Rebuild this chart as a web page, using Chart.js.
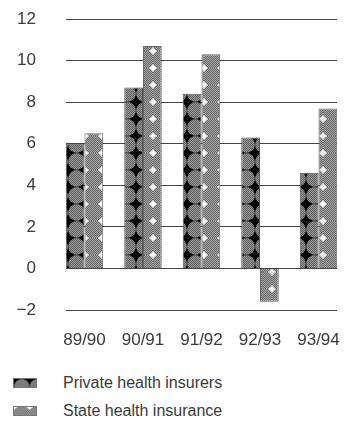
<!DOCTYPE html>
<html lang="en">
<head>
<meta charset="UTF-8">
<title>Health insurers</title>
<script src="https://cdn.jsdelivr.net/npm/chart.js"></script>
<style>
    body { margin: 0; background: #fff; }
    .janela { position: relative; width: 356px; height: 428px; overflow: hidden; font-family: "Liberation Sans", Arial, sans-serif; color: #3a3a3a; }
    .graph { position: absolute; left: 0; top: 0; width: 356px; height: 360px; }
    .legenda { position: absolute; left: 13px; font-size: 16px; line-height: 18px; display: flex; align-items: center; }
    .legenda canvas { width: 24px; height: 10px; margin-right: 26px; border: 1px solid #777; box-sizing: border-box; }
</style>
</head>
<body>
<div class="janela">
    <div class="graph"><canvas id="myChartCanvas1" width="356" height="360"></canvas></div>
    <div class="legenda" style="top:374px"><canvas id="swatch1" width="24" height="10"></canvas><span>Private health insurers</span></div>
    <div class="legenda" style="top:402px"><canvas id="swatch2" width="24" height="10"></canvas><span>State health insurance</span></div>
</div>

<script>
    // dados (% variação)
    const anos = ['89/90', '90/91', '91/92', '92/93', '93/94'];
    const privadas = [6.0, 8.7, 8.4, 6.3, 4.6];
    const estatais = [6.5, 10.7, 10.3, -1.6, 7.7];
    const rotulos = ['Private health insurers', 'State health insurance'];

    // padrão: círculos cinza pontilhados sobre um fundo (preto ou branco)
    function criarPadrao(fundo, raio, claro, escuro) {
        let c = document.createElement('canvas');
        c.width = 17; c.height = 17;
        let ctx = c.getContext('2d');
        ctx.fillStyle = fundo;
        ctx.fillRect(0, 0, 17, 17);
        ctx.save();
        ctx.beginPath();
        ctx.arc(8.5, 8.5, raio, 0, Math.PI * 2);
        ctx.clip();
        ctx.fillStyle = claro;
        ctx.fillRect(0, 0, 17, 17);
        ctx.fillStyle = escuro;
        for (let y = 0; y < 17; y++) {
            for (let x = (y % 2); x < 17; x += 2) {
                ctx.fillRect(x, y, 1, 1);
            }
        }
        ctx.restore();
        return c;
    }

    const tileP = criarPadrao('#000', 8.3, '#9a9a9a', '#5e5e5e');
    const tileE = criarPadrao('#fff', 9.6, '#a8a8a8', '#666');
    const ctxChart = document.getElementById('myChartCanvas1').getContext('2d');

    function pintarAmostra(id, tile) {
        let ctx = document.getElementById(id).getContext('2d');
        ctx.fillStyle = ctx.createPattern(tile, 'repeat');
        ctx.fillRect(0, 0, 24, 10);
    }
    pintarAmostra('swatch1', tileP);
    pintarAmostra('swatch2', tileE);

    const fonte = { family: '"Liberation Sans", Arial, sans-serif', size: 17 };

    const dados = {
        datasets: [{
            label: rotulos[0],
            data: privadas.map((v, i) => ({ x: i, y: v })),
            backgroundColor: ctxChart.createPattern(tileP, 'repeat'),
            borderColor: '#555',
            borderWidth: 1
        }, {
            label: rotulos[1],
            data: estatais.map((v, i) => ({ x: i, y: v })),
            backgroundColor: ctxChart.createPattern(tileE, 'repeat'),
            borderColor: '#666',
            borderWidth: 1
        }]
    };

    const config = {
        type: 'bar',
        data: dados,
        options: {
            responsive: false,
            maintainAspectRatio: false,
            animation: false,
            layout: { padding: { left: 0, right: 19, top: 19, bottom: 0 } },
            datasets: { bar: { categoryPercentage: 0.64, barPercentage: 1 } },
            plugins: { legend: { display: false }, tooltip: { enabled: false } },
            scales: {
                x: {
                    type: 'linear',
                    offset: false,
                    min: -0.316,
                    max: 4.316,
                    grid: { display: false, offset: false },
                    border: { display: false },
                    afterFit: s => { s.height = 50; s.paddingLeft = 0; s.paddingRight = 0; },
                    ticks: {
                        stepSize: 1,
                        includeBounds: false,
                        autoSkip: false,
                        maxRotation: 0,
                        minRotation: 0,
                        padding: 12,
                        color: '#3a3a3a',
                        font: fonte,
                        callback: v => Number.isInteger(v) ? anos[v] : ''
                    }
                },
                y: {
                    min: -2,
                    max: 12,
                    grid: { color: '#444', lineWidth: 1, drawTicks: false },
                    border: { display: false },
                    afterFit: s => { s.width = 66; s.paddingTop = 0; s.paddingBottom = 0; },
                    ticks: {
                        stepSize: 2,
                        padding: 30,
                        color: '#3a3a3a',
                        font: fonte,
                        callback: v => v < 0 ? '\u2212' + Math.abs(v) : v
                    }
                }
            }
        }
    };

    let myChart = new Chart(document.getElementById('myChartCanvas1'), config);
</script>
</body>
</html>
